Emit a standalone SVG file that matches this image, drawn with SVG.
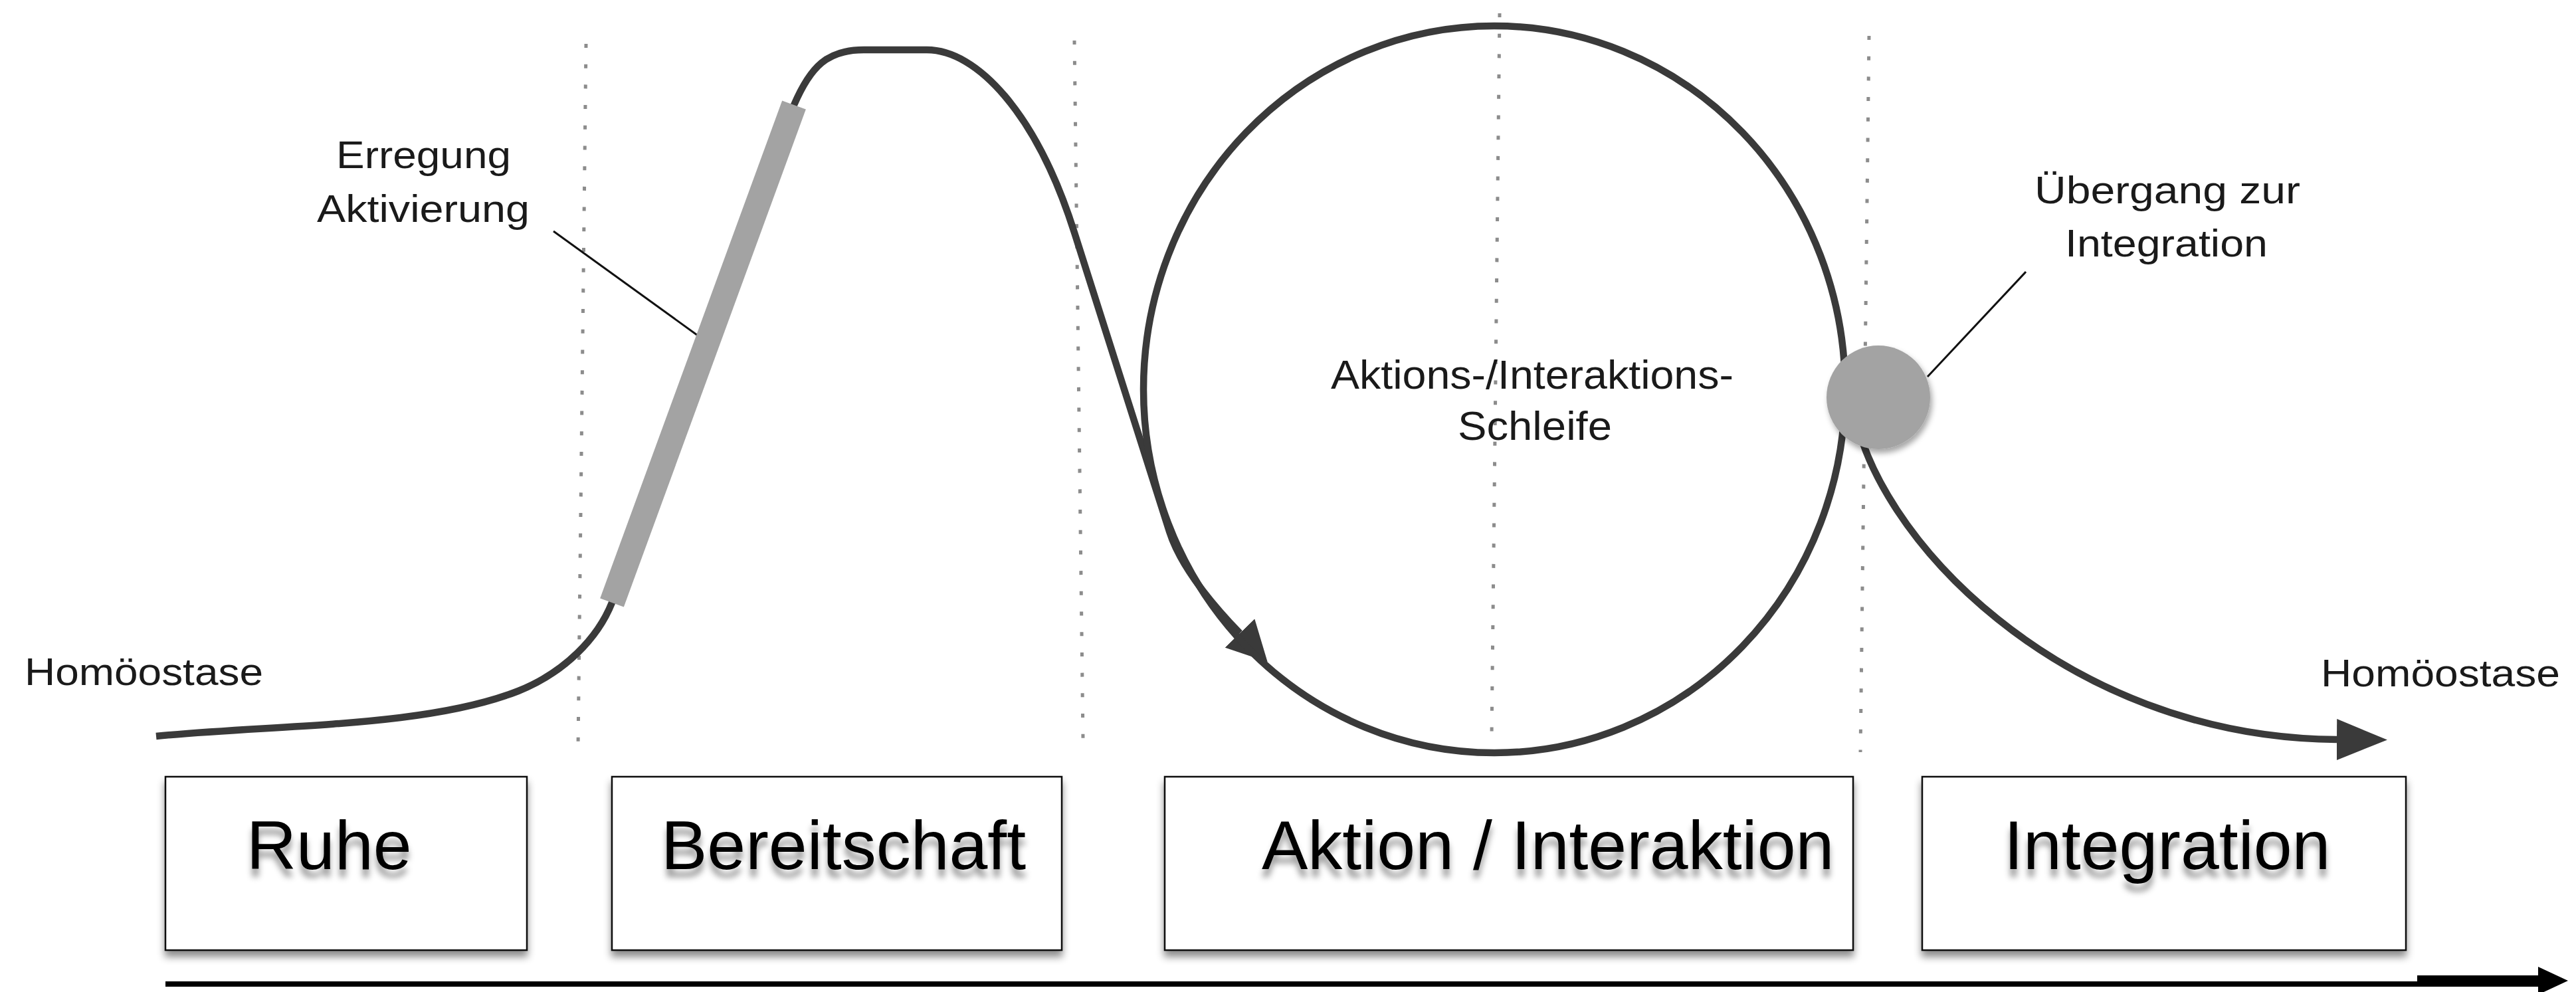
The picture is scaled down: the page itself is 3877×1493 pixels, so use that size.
<svg xmlns="http://www.w3.org/2000/svg" width="3877" height="1493" viewBox="0 0 3877 1493">
  <defs>
    <style>
      .bg { fill: #ffffff; }
      .dots { fill: none; stroke: #8c8c8c; stroke-width: 5; stroke-dasharray: 6 24.7; }
      .curve { fill: none; stroke: #3a3a3a; stroke-width: 10.5; stroke-linejoin: round; }
      .bar { fill: none; stroke: #a3a3a3; stroke-width: 38; stroke-linecap: butt; }
      .callout { fill: none; stroke: #111111; stroke-width: 3; }
      .box { fill: #ffffff; stroke: #111111; stroke-width: 2.5; }
      .boxlabel { font-family: "Liberation Sans", Arial, Helvetica, sans-serif; font-size: 104px; fill: #000000; }
      .label { font-family: "Liberation Sans", Arial, Helvetica, sans-serif; font-size: 57px; fill: #1a1a1a; }
      .label-lg { font-family: "Liberation Sans", Arial, Helvetica, sans-serif; font-size: 61px; fill: #1a1a1a; }
      .knot { fill: #a3a3a3; }
      .axis { fill: none; stroke: #000000; stroke-width: 8; }
    </style>
    <filter id="boxShadow" x="-5%" y="-10%" width="110%" height="130%">
      <feDropShadow dx="0" dy="9" stdDeviation="6" flood-color="#000000" flood-opacity="0.45"/>
    </filter>
    <filter id="textShadow" x="-5%" y="-20%" width="110%" height="170%">
      <feDropShadow dx="0" dy="12" stdDeviation="5" flood-color="#000000" flood-opacity="0.4"/>
    </filter>
    <filter id="knotShadow" x="-30%" y="-30%" width="160%" height="160%">
      <feDropShadow dx="3" dy="6" stdDeviation="4" flood-color="#000000" flood-opacity="0.35"/>
    </filter>
    <marker id="arrowMid" markerUnits="userSpaceOnUse" viewBox="0 0 60 62" markerWidth="60" markerHeight="62" refX="0" refY="31" orient="auto">
      <path d="M0,0 L60,31 L0,62 z" fill="#3a3a3a"/>
    </marker>
    <marker id="arrowEnd" markerUnits="userSpaceOnUse" viewBox="0 0 76 62" markerWidth="76" markerHeight="62" refX="0" refY="31" orient="auto">
      <path d="M0,0 L76,31 L0,62 z" fill="#3a3a3a"/>
    </marker>
  </defs>

  <rect class="bg" x="0" y="0" width="3877" height="1493"/>

  <g id="phase-dividers">
    <line class="dots" x1="882" y1="66" x2="870" y2="1125"/>
    <line class="dots" x1="1617" y1="61" x2="1630" y2="1113"/>
    <line class="dots" x1="2257" y1="20" x2="2245" y2="1110"/>
    <line class="dots" x1="2813" y1="54" x2="2800" y2="1132"/>
  </g>

  <g id="connectors">
    <path id="main-curve" class="curve" marker-end="url(#arrowMid)"
      d="M235,1108 C420,1090 640,1095 780,1040 C850,1012 900,960 921,907 L1195,158 C1220,100 1245,75 1300,75 L1395,75 C1470,75 1560,170 1617,350 L1760,800 C1779,860 1838,924 1866,953"/>
    <ellipse id="loop" class="curve" cx="2249" cy="586" rx="528" ry="547"/>
    <path id="exit-curve" class="curve" marker-end="url(#arrowEnd)"
      d="M2790,610 C2815,800 3100,1110 3517,1113"/>
    <line id="callout-erregung" class="callout" x1="833" y1="348" x2="1053" y2="507"/>
    <line id="callout-uebergang" class="callout" x1="2901" y1="567" x2="3049" y2="409"/>
    <g id="time-axis">
      <line class="axis" x1="249" y1="1481" x2="3830" y2="1481"/>
      <rect x="3638" y="1468" width="190" height="16" fill="#000000"/>
      <polygon points="3820,1455 3865,1476 3820,1497" fill="#000000"/>
    </g>
  </g>

  <g id="node-erregung">
    <line class="bar" x1="921" y1="907" x2="1195" y2="158"/>
    <text class="label" x="506" y="253" textLength="263" lengthAdjust="spacingAndGlyphs">Erregung</text>
    <text class="label" x="477" y="334" textLength="320" lengthAdjust="spacingAndGlyphs">Aktivierung</text>
  </g>

  <g id="node-uebergang">
    <circle class="knot" cx="2827" cy="598" r="78" filter="url(#knotShadow)"/>
    <text class="label" x="3062" y="306" textLength="400" lengthAdjust="spacingAndGlyphs">Übergang zur</text>
    <text class="label" x="3108" y="386" textLength="305" lengthAdjust="spacingAndGlyphs">Integration</text>
  </g>

  <g id="node-schleife">
    <text class="label-lg" x="2003" y="585" textLength="606" lengthAdjust="spacingAndGlyphs">Aktions-/Interaktions-</text>
    <text class="label-lg" x="2194" y="662" textLength="232" lengthAdjust="spacingAndGlyphs">Schleife</text>
  </g>

  <g id="node-homoeostase-start">
    <text class="label" x="37" y="1031" textLength="359" lengthAdjust="spacingAndGlyphs">Homöostase</text>
  </g>
  <g id="node-homoeostase-end">
    <text class="label" x="3493" y="1033" textLength="360" lengthAdjust="spacingAndGlyphs">Homöostase</text>
  </g>

  <g id="node-ruhe">
    <rect class="box" x="249" y="1169" width="544" height="261" filter="url(#boxShadow)"/>
    <text class="boxlabel" x="371" y="1308" filter="url(#textShadow)">Ruhe</text>
  </g>
  <g id="node-bereitschaft">
    <rect class="box" x="921" y="1169" width="677" height="261" filter="url(#boxShadow)"/>
    <text class="boxlabel" x="995" y="1308" filter="url(#textShadow)">Bereitschaft</text>
  </g>
  <g id="node-aktion">
    <rect class="box" x="1753" y="1169" width="1036" height="261" filter="url(#boxShadow)"/>
    <text class="boxlabel" x="1899" y="1308" filter="url(#textShadow)">Aktion / Interaktion</text>
  </g>
  <g id="node-integration">
    <rect class="box" x="2893" y="1169" width="728" height="261" filter="url(#boxShadow)"/>
    <text class="boxlabel" x="3016" y="1308" filter="url(#textShadow)">Integration</text>
  </g>
</svg>
